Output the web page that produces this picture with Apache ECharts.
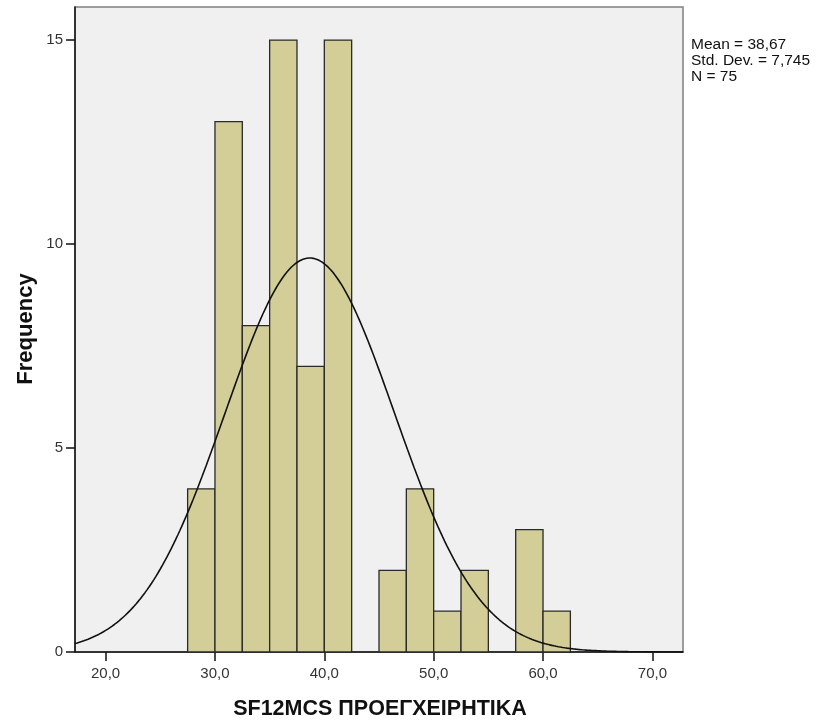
<!DOCTYPE html>
<html><head><meta charset="utf-8">
<script src="https://cdn.jsdelivr.net/npm/echarts@6/dist/echarts.min.js"></script>
<style>html,body{margin:0;padding:0;background:#fff}#c{width:819px;height:722px}</style>
</head><body><div id="c"></div>
<script>
// Histogram bins (lower edge) and frequencies
const binStarts = [27.5, 30, 32.5, 35, 37.5, 40, 42.5, 45, 47.5, 50, 52.5, 55, 57.5, 60];
const frequencies = [4, 13, 8, 15, 7, 15, 0, 2, 4, 1, 2, 0, 3, 1];
const binWidth = [2.5];
// Normal curve parameters shown in the chart
const statMean = [38.67];
const statSd = [7.745];
const statN = [75];
const xTicks = [20, 30, 40, 50, 60, 70];
const yTicks = [0, 5, 10, 15];
const statLines = ['Mean = 38,67', 'Std. Dev. = 7,745', 'N = 75'];

const w = binWidth[0], mu = statMean[0], sd = statSd[0], N = statN[0];
const xMin = 17.2, xMax = 72.8;
const curve = [];
for (let x = xMin; x <= xMax + 1e-9; x += 0.2) {
  const y = N * w / (sd * Math.sqrt(2 * Math.PI)) * Math.exp(-0.5 * Math.pow((x - mu) / sd, 2));
  curve.push([x, y]);
}
const barData = binStarts.map((s, i) => [s, s + w, frequencies[i]]).filter(d => d[2] > 0);

const FF = 'Arial, "Liberation Sans", sans-serif';
const chart = echarts.init(document.getElementById('c'), null, { renderer: 'canvas' });
chart.setOption({
  animation: false,
  backgroundColor: '#ffffff',
  grid: { left: 75, top: 7, right: 136, bottom: 70, show: true, backgroundColor: '#f0f0f0', borderColor: '#808080', borderWidth: 1.5 },
  xAxis: {
    type: 'value', min: xMin, max: xMax,
    axisLine: { show: true, onZero: false, lineStyle: { color: '#111', width: 1.5 } },
    axisTick: { show: true, customValues: xTicks, length: 9, lineStyle: { color: '#111', width: 1.5 } },
    axisLabel: { customValues: xTicks, color: '#333', fontSize: 15, fontFamily: FF, margin: 14,
      formatter: v => v.toFixed(1).replace('.', ',') },
    splitLine: { show: false }
  },
  yAxis: {
    type: 'value', min: 0, max: 15.81,
    axisLine: { show: true, lineStyle: { color: '#111', width: 1.5 } },
    axisTick: { show: true, customValues: yTicks, length: 9, lineStyle: { color: '#111', width: 1.5 } },
    axisLabel: { customValues: yTicks, color: '#333', fontSize: 15, fontFamily: FF, margin: 12 },
    splitLine: { show: false }
  },
  series: [
    {
      type: 'custom',
      data: barData,
      encode: { x: [0, 1], y: 2 },
      renderItem: function (params, api) {
        const p0 = api.coord([api.value(0), 0]);
        const p1 = api.coord([api.value(1), api.value(2)]);
        return {
          type: 'rect',
          shape: { x: p0[0], y: p1[1], width: p1[0] - p0[0], height: p0[1] - p1[1] },
          style: { fill: '#d3ce97', stroke: '#2a2a2a', lineWidth: 1.3 }
        };
      },
      z: 2
    },
    {
      type: 'line', data: curve, showSymbol: false, smooth: false,
      lineStyle: { color: '#111', width: 1.6 }, z: 3
    }
  ],
  graphic: [
    { type: 'text', left: 691, top: 37, style: { text: statLines.join('\n'), fontSize: 15.5, lineHeight: 16, fontFamily: FF, fill: '#111' } },
    { type: 'text', x: 26, y: 329, rotation: Math.PI / 2, style: { text: 'Frequency', fontSize: 22, fontWeight: 'bold', fontFamily: FF, fill: '#111', align: 'center', verticalAlign: 'middle' } },
    { type: 'text', x: 380, y: 709, style: { text: 'SF12MCS ΠΡΟΕΓΧΕΙΡΗΤΙΚΑ', fontSize: 21.5, fontWeight: 'bold', fontFamily: FF, fill: '#111', align: 'center', verticalAlign: 'middle' } }
  ]
});
</script></body></html>
